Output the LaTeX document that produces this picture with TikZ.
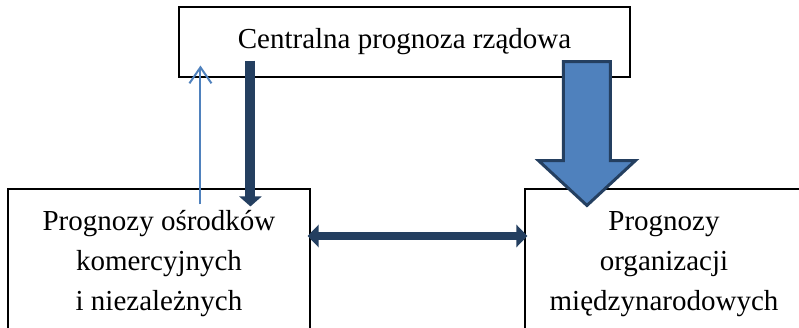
\documentclass[tikz,border=0pt]{standalone}
\usepackage{fontspec}
\setmainfont{Liberation Serif}
\usetikzlibrary{arrows.meta,calc}
\definecolor{granat}{HTML}{243F60}
\definecolor{niebieski}{HTML}{4F81BD}
\tikzset{block/.style = {draw, fill=white, line width=1.1pt, rectangle, align=center,
                         font=\fontsize{29}{40}\selectfont},
         cienka/.style = {draw=niebieski, line width=2pt, -{Straight Barb[width=22pt,length=16pt,line width=2pt]}},
         gruba/.style = {draw=granat, line width=10pt, -{Triangle[width=22pt,length=10pt]}},
         obie/.style = {draw=granat, line width=8pt, {Triangle[width=22pt,length=11pt]}-{Triangle[width=22pt,length=11pt]}},
         wielka/.style = {draw=granat, fill=niebieski, line width=3pt, line join=miter}}

\begin{document}
\begin{tikzpicture}[x=1pt,y=1pt]
        \useasboundingbox(0,0)rectangle(799,327);
        \clip(0,0)rectangle(799,327);

        \node[block, minimum width=451pt, minimum height=70pt](rzad)at(404.5,285){Centralna prognoza rządowa};
        \node[block, minimum width=302pt, minimum height=150pt](komerc)at(159,63){Prognozy ośrodków\\komercyjnych\\i niezależnych};
        \node[block, minimum width=278pt, minimum height=150pt](miedzy)at(664,63){Prognozy\\organizacji\\międzynarodowych};

        % strzalki miedzy prognozami
        \coordinate(w1)at($(komerc.north west)+(193,-16)$);
        \coordinate(w2)at($(rzad.south west)+(22,12)$);
        \draw[cienka](w1)--(w2);

        \coordinate(d1)at($(rzad.south west)+(72,17)$);
        \coordinate(d2)at($(komerc.north west)+(243,-18)$);
        \draw[gruba](d1)--(d2);

        \draw[obie]($(komerc.east)+(-3,28)$)--($(miedzy.west)+(3,28)$);

        \coordinate(bt)at($(rzad.south west)+(408.5,16)$);
        \coordinate(tip)at($(miedzy.north west)+(62.5,-17)$);
        \draw[wielka]($(bt)+(-23.5,0)$)--($(bt)+(23.5,0)$)--($(bt)+(23.5,-99)$)--($(bt)+(48.5,-99)$)
            --(tip)--($(bt)+(-48.5,-99)$)--($(bt)+(-23.5,-99)$)--cycle;
\end{tikzpicture}
\end{document}
